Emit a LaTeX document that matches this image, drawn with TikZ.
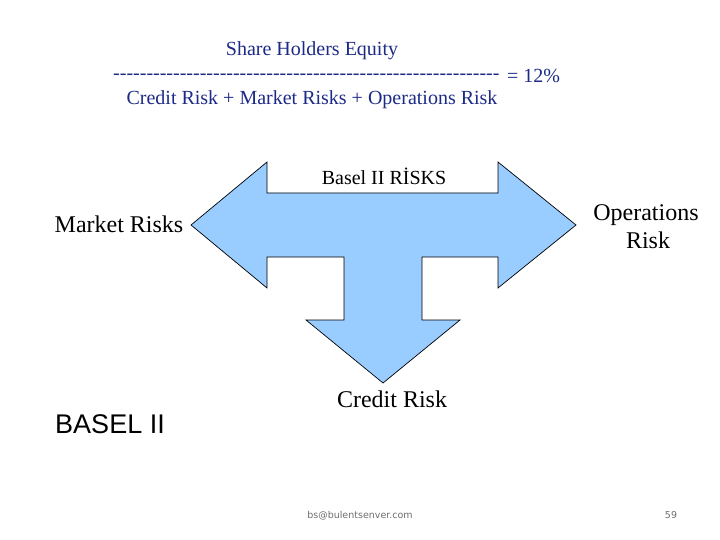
\documentclass[tikz,border=0pt]{standalone}
\usepackage{fontspec}
\setmainfont{Liberation Serif}
\newfontfamily\arialfont{Liberation Sans}
\newfontfamily\footfont{DejaVu Sans}
\definecolor{titleblue}{RGB}{28,42,135}
\definecolor{arrowfill}{RGB}{153,204,255}
\definecolor{footgray}{RGB}{110,110,110}
\newcommand{\tendash}{-{}-{}-{}-{}-{}-{}-{}-{}-{}-{}}
\tikzset{
  lbl/.style={inner sep=0pt, anchor=base},
  toptext/.style={lbl, text=titleblue, font=\fontsize{20}{24}\selectfont},
  bigtext/.style={lbl, font=\fontsize{24}{28}\selectfont},
  foot/.style={lbl, text=footgray, font=\footfont\fontsize{9.5}{11}\selectfont},
}
\begin{document}
\begin{tikzpicture}[x=1pt,y=-1pt]
\useasboundingbox (0,0) rectangle (720,540);
% T-shaped three-way arrow
\draw[fill=arrowfill, draw=black, line width=0.7pt, line join=miter]
  (191,225) -- (267,162) -- (267,193) -- (498,193) -- (498,162) -- (576,225)
  -- (498,288) -- (498,257) -- (422,257) -- (422,320) -- (460,320) -- (383,383)
  -- (306,320) -- (344,320) -- (344,257) -- (267,257) -- (267,288) -- cycle;
% formula
\node[toptext] (num) at (312,56) {Share Holders Equity};
\node[toptext, anchor=base west] (dash) at (113,80) {\tendash\tendash\tendash\tendash\tendash-{}-{}-{}-{}-{}-{}-{}-{}};
\node[toptext, anchor=base west] (eq) at (507,83) {= 12\%};
\node[toptext] (den) at (312,105) {Credit Risk + Market Risks + Operations Risk};
% labels
\node[lbl, font=\fontsize{20}{24}\selectfont] (risks) at (384,185) {Basel II RİSKS};
\node[bigtext] (market) at (119,233) {Market Risks};
\node[bigtext] (ops1) at (646,221) {Operations};
\node[bigtext] (ops2) at (648,248) {Risk};
\node[bigtext] (credit) at (392,407) {Credit Risk};
\node[lbl, font=\arialfont\fontsize{27}{30}\selectfont] (basel) at (110,433) {BASEL II};
% footer
\node[foot] (mail) at (360,518) {bs@bulentsenver.com};
\node[foot] (page) at (671,518) {59};
\end{tikzpicture}
\end{document}
